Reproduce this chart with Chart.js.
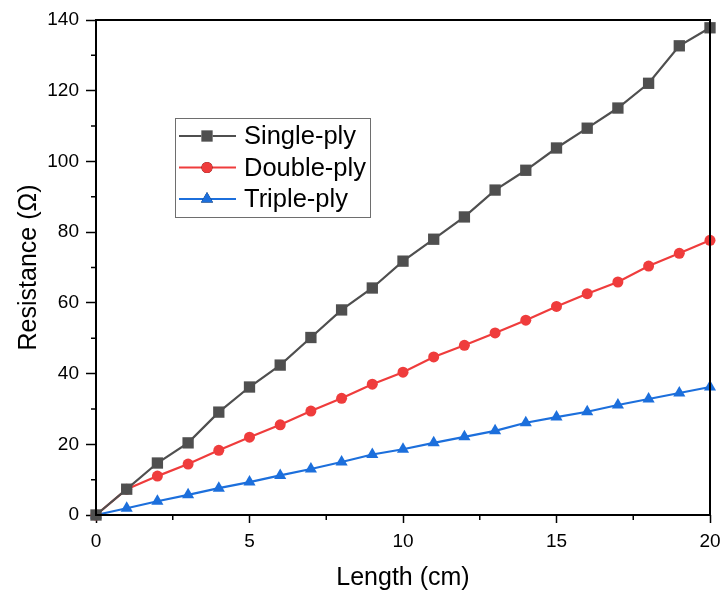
<!DOCTYPE html>
<html>
<head>
<meta charset="utf-8">
<script src="https://cdn.jsdelivr.net/npm/chart.js@4/dist/chart.umd.min.js"></script>
<style>
  body { margin: 0; background: #fff; }
  #resistance-chart { display: block; }
</style>
</head>
<body>
<canvas id="resistance-chart" width="722" height="594"></canvas>
<script>
const lengths = [0, 1, 2, 3, 4, 5, 6, 7, 8, 9, 10, 11, 12, 13, 14, 15, 16, 17, 18, 19, 20];
const single_ply = [0, 7.3, 14.7, 20.4, 29.1, 36.2, 42.4, 50.2, 58.0, 64.2, 71.8, 78.0, 84.3, 91.9, 97.5, 103.8, 109.4, 115.1, 122.1, 132.7, 137.8];
const double_ply = [0, 7.3, 11.0, 14.4, 18.3, 22.0, 25.5, 29.4, 33.0, 37.0, 40.4, 44.7, 48.0, 51.5, 55.1, 59.0, 62.6, 65.9, 70.4, 74.0, 77.7];
const triple_ply = [0, 1.9, 3.9, 5.7, 7.6, 9.3, 11.2, 13.0, 15.0, 17.1, 18.6, 20.4, 22.1, 23.8, 26.1, 27.7, 29.2, 31.1, 32.8, 34.5, 36.2];

const x_ticks = [0, 5, 10, 15, 20];
const y_ticks = [0, 20, 40, 60, 80, 100, 120, 140];

const FONT = "'Liberation Sans', Arial, sans-serif";

function toPoints(values) {
  return values.map((v, i) => ({ x: lengths[i], y: v }));
}

// draws the box frame, minor ticks and the inset legend
const framePlugin = {
  id: "frame",
  afterDraw(chart) {
    const ctx = chart.ctx;
    const area = chart.chartArea;
    const xs = chart.scales.x;
    const ys = chart.scales.y;
    ctx.save();
    ctx.strokeStyle = "#000";
    ctx.lineWidth = 2;
    ctx.strokeRect(area.left, area.top, area.right - area.left, area.bottom - area.top);

    ctx.lineWidth = 1.5;
    ctx.beginPath();
    for (let v = 2.5; v < 20; v += 5) {
      const px = xs.getPixelForValue(v);
      ctx.moveTo(px, area.bottom);
      ctx.lineTo(px, area.bottom + 5);
    }
    for (let v = 10; v < 140; v += 20) {
      const py = ys.getPixelForValue(v);
      ctx.moveTo(area.left, py);
      ctx.lineTo(area.left - 5, py);
    }
    ctx.stroke();

    // legend box
    const bx = 175, by = 118, bw = 195, bh = 99;
    ctx.fillStyle = "#fff";
    ctx.fillRect(bx, by, bw, bh);
    ctx.strokeStyle = "#6e6e6e";
    ctx.lineWidth = 1;
    ctx.strokeRect(bx + 0.5, by + 0.5, bw, bh);
    chart.data.datasets.forEach((ds, i) => {
      const cy = 136 + i * 31.5;
      ctx.strokeStyle = ds.borderColor;
      ctx.lineWidth = 2.2;
      ctx.beginPath();
      ctx.moveTo(179, cy);
      ctx.lineTo(236, cy);
      ctx.stroke();
      Chart.helpers.drawPoint(ctx, {
        pointStyle: ds.pointStyle,
        radius: ds.pointRadius,
        borderWidth: 0,
        rotation: 0,
      }, 207, cy);
      ctx.fillStyle = ds.pointBackgroundColor;
      ctx.fill();
      ctx.fillStyle = "#000";
      ctx.font = "25.5px " + FONT;
      ctx.textBaseline = "middle";
      ctx.fillText(ds.label, 244, cy + 1);
    });
    ctx.restore();
  },
};

const ctx = document.getElementById("resistance-chart");

new Chart(ctx, {
  type: "line",
  data: {
    datasets: [
      {
        label: "Single-ply",
        data: toPoints(single_ply),
        borderColor: "#4f4f4f",
        backgroundColor: "#4f4f4f",
        pointBackgroundColor: "#4f4f4f",
        pointStyle: "rect",
        pointRadius: 8,
        pointBorderWidth: 0,
        borderWidth: 2.2,
        tension: 0,
      },
      {
        label: "Double-ply",
        data: toPoints(double_ply),
        borderColor: "#ef3c3c",
        backgroundColor: "#ef3c3c",
        pointBackgroundColor: "#ef3c3c",
        pointStyle: "circle",
        pointRadius: 5.5,
        pointBorderWidth: 0,
        borderWidth: 2.2,
        tension: 0,
      },
      {
        label: "Triple-ply",
        data: toPoints(triple_ply),
        borderColor: "#1c6fdc",
        backgroundColor: "#1c6fdc",
        pointBackgroundColor: "#1c6fdc",
        pointStyle: "triangle",
        pointRadius: 7,
        pointBorderWidth: 0,
        borderWidth: 2.2,
        tension: 0,
      },
    ],
  },
  options: {
    responsive: false,
    animation: false,
    clip: false,
    layout: { padding: { top: 20, right: 0, left: 0, bottom: 0 } },
    plugins: {
      legend: { display: false },
      tooltip: { enabled: false },
    },
    scales: {
      x: {
        type: "linear",
        min: 0,
        max: 20,
        afterBuildTicks: (scale) => {
          scale.ticks = x_ticks.map((v) => ({ value: v }));
        },
        afterFit: (scale) => {
          scale.height = 79;
          scale.paddingLeft = 0;
          scale.paddingRight = 12;
        },
        ticks: {
          color: "#000",
          padding: 7,
          maxRotation: 0,
          font: { size: 19, family: FONT },
        },
        grid: {
          drawOnChartArea: false,
          tickLength: 8,
          tickColor: "#000",
          tickWidth: 1.5,
        },
        border: { display: false },
        title: {
          display: true,
          text: "Length (cm)",
          color: "#000",
          padding: { top: 0, bottom: 1 },
          font: { size: 25, family: FONT },
        },
      },
      y: {
        type: "linear",
        min: 0,
        max: 140,
        afterBuildTicks: (scale) => {
          scale.ticks = y_ticks.map((v) => ({ value: v }));
        },
        afterFit: (scale) => {
          scale.width = 96;
        },
        ticks: {
          color: "#000",
          padding: 7,
          font: { size: 19, family: FONT },
        },
        grid: {
          drawOnChartArea: false,
          tickLength: 10,
          tickColor: "#000",
          tickWidth: 1.5,
        },
        border: { display: false },
        title: {
          display: true,
          text: "Resistance (Ω)",
          color: "#000",
          padding: { top: 14, bottom: 0 },
          font: { size: 25, family: FONT },
        },
      },
    },
  },
  plugins: [framePlugin],
});
</script>
</body>
</html>
